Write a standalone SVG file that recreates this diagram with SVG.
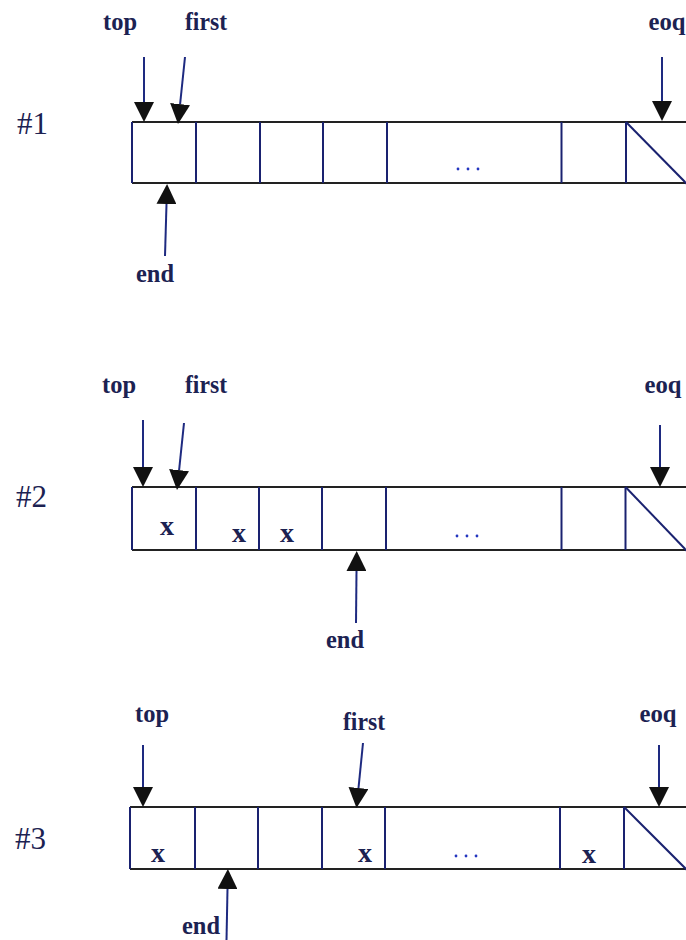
<svg xmlns="http://www.w3.org/2000/svg" width="686" height="940" viewBox="0 0 686 940">
  <style>
    .lbl { font-family: "Liberation Serif", "Times New Roman", serif; font-weight: bold; font-size: 26px; fill: #1c2252; text-anchor: middle; }
    .num { font-family: "Liberation Serif", "Times New Roman", serif; font-size: 31px; fill: #1c2252; }
    .x { font-family: "Liberation Serif", "Times New Roman", serif; font-weight: bold; font-size: 28px; fill: #1c2252; text-anchor: middle; }
    .hline { stroke: #222; stroke-width: 2; fill: none; }
    .div { stroke: #1a2270; stroke-width: 2; fill: none; }
    .ptr { stroke: #1e2a80; stroke-width: 2; fill: none; marker-end: url(#head); }
    .dot { fill: #2436c0; }
  </style>
  <defs>
    <marker id="head" markerUnits="userSpaceOnUse" markerWidth="20" markerHeight="20" refX="0" refY="10" orient="auto">
      <path d="M0,0 L20,10 L0,20 z" fill="#111"/>
    </marker>
  </defs>
  <rect width="686" height="940" fill="#fff"/>

  <!-- state #1 -->
  <g id="queue1">
    <text class="num" x="17" y="134">#1</text>
    <line class="hline" x1="132" y1="122" x2="686" y2="122"/>
    <line class="hline" x1="132" y1="183" x2="686" y2="183"/>
    <line class="div" x1="132" y1="122" x2="132" y2="183"/>
    <line class="div" x1="196" y1="122" x2="196" y2="183"/>
    <line class="div" x1="260" y1="122" x2="260" y2="183"/>
    <line class="div" x1="323" y1="122" x2="323" y2="183"/>
    <line class="div" x1="387" y1="122" x2="387" y2="183"/>
    <line class="div" x1="561.5" y1="122" x2="561.5" y2="183"/>
    <line class="div" x1="626" y1="122" x2="626" y2="183"/>
    <line class="div" x1="626" y1="122" x2="687" y2="184"/>
    <circle class="dot" cx="458" cy="169" r="1.4"/>
    <circle class="dot" cx="468" cy="169" r="1.4"/>
    <circle class="dot" cx="478" cy="169" r="1.4"/>
  </g>
  <g id="top1"><text class="lbl" x="120" y="30" textLength="34" lengthAdjust="spacingAndGlyphs">top</text></g>
  <g id="first1"><text class="lbl" x="206" y="30" textLength="42" lengthAdjust="spacingAndGlyphs">first</text></g>
  <g id="eoq1"><text class="lbl" x="667" y="30" textLength="37" lengthAdjust="spacingAndGlyphs">eoq</text></g>
  <g id="end1"><text class="lbl" x="155" y="282" textLength="38" lengthAdjust="spacingAndGlyphs">end</text></g>

  <!-- state #2 -->
  <g id="queue2">
    <text class="num" x="16" y="507">#2</text>
    <line class="hline" x1="132" y1="487" x2="686" y2="487"/>
    <line class="hline" x1="132" y1="550" x2="686" y2="550"/>
    <line class="div" x1="132" y1="487" x2="132" y2="550"/>
    <line class="div" x1="196" y1="487" x2="196" y2="550"/>
    <line class="div" x1="259" y1="487" x2="259" y2="550"/>
    <line class="div" x1="322" y1="487" x2="322" y2="550"/>
    <line class="div" x1="386" y1="487" x2="386" y2="550"/>
    <line class="div" x1="561.5" y1="487" x2="561.5" y2="550"/>
    <line class="div" x1="625.5" y1="487" x2="625.5" y2="550"/>
    <line class="div" x1="625.5" y1="487" x2="687" y2="551"/>
    <text class="x" x="167" y="535">x</text>
    <text class="x" x="239" y="542">x</text>
    <text class="x" x="287" y="542">x</text>
    <circle class="dot" cx="457" cy="536" r="1.4"/>
    <circle class="dot" cx="467" cy="536" r="1.4"/>
    <circle class="dot" cx="477" cy="536" r="1.4"/>
  </g>
  <g id="top2"><text class="lbl" x="119" y="393" textLength="34" lengthAdjust="spacingAndGlyphs">top</text></g>
  <g id="first2"><text class="lbl" x="206" y="393" textLength="42" lengthAdjust="spacingAndGlyphs">first</text></g>
  <g id="eoq2"><text class="lbl" x="663" y="393" textLength="37" lengthAdjust="spacingAndGlyphs">eoq</text></g>
  <g id="end2"><text class="lbl" x="345" y="648" textLength="38" lengthAdjust="spacingAndGlyphs">end</text></g>

  <!-- state #3 -->
  <g id="queue3">
    <text class="num" x="15" y="849">#3</text>
    <line class="hline" x1="130" y1="807" x2="686" y2="807"/>
    <line class="hline" x1="130" y1="869" x2="686" y2="869"/>
    <line class="div" x1="130" y1="807" x2="130" y2="869"/>
    <line class="div" x1="195" y1="807" x2="195" y2="869"/>
    <line class="div" x1="258" y1="807" x2="258" y2="869"/>
    <line class="div" x1="322" y1="807" x2="322" y2="869"/>
    <line class="div" x1="385" y1="807" x2="385" y2="869"/>
    <line class="div" x1="560" y1="807" x2="560" y2="869"/>
    <line class="div" x1="624" y1="807" x2="624" y2="869"/>
    <line class="div" x1="624" y1="807" x2="687" y2="870"/>
    <text class="x" x="158" y="862">x</text>
    <text class="x" x="365" y="862">x</text>
    <text class="x" x="589" y="863">x</text>
    <circle class="dot" cx="456" cy="856" r="1.4"/>
    <circle class="dot" cx="466" cy="856" r="1.4"/>
    <circle class="dot" cx="476" cy="856" r="1.4"/>
  </g>
  <g id="top3"><text class="lbl" x="152" y="722" textLength="34" lengthAdjust="spacingAndGlyphs">top</text></g>
  <g id="first3"><text class="lbl" x="364" y="730" textLength="42" lengthAdjust="spacingAndGlyphs">first</text></g>
  <g id="eoq3"><text class="lbl" x="658" y="722" textLength="37" lengthAdjust="spacingAndGlyphs">eoq</text></g>
  <g id="end3"><text class="lbl" x="201" y="934" textLength="38" lengthAdjust="spacingAndGlyphs">end</text></g>

  <!-- pointer arrows -->
  <g id="connectors">
    <line class="ptr" x1="144" y1="57" x2="144" y2="102"/>
    <line class="ptr" x1="185" y1="57" x2="180.1" y2="104.1"/>
    <line class="ptr" x1="165" y1="256" x2="166.5" y2="204"/>
    <line class="ptr" x1="662" y1="57" x2="662" y2="101"/>

    <line class="ptr" x1="143" y1="420" x2="143" y2="467"/>
    <line class="ptr" x1="184" y1="423" x2="179.1" y2="470.1"/>
    <line class="ptr" x1="356" y1="623" x2="356.5" y2="571"/>
    <line class="ptr" x1="660" y1="425" x2="660" y2="467"/>

    <line class="ptr" x1="143" y1="745" x2="143" y2="787"/>
    <line class="ptr" x1="363" y1="743" x2="358.5" y2="788"/>
    <line class="ptr" x1="226.5" y1="940" x2="227.5" y2="889"/>
    <line class="ptr" x1="659" y1="745" x2="659" y2="787"/>
  </g>
</svg>
